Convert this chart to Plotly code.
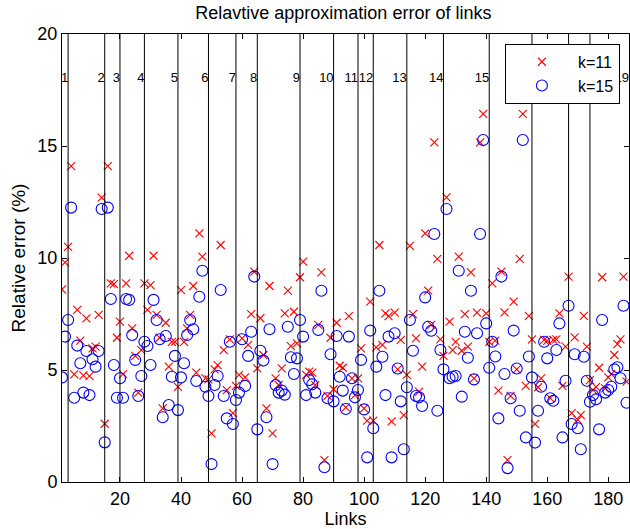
import plotly.graph_objects as go

links = list(range(1, 187))

k11 = [8.6, 9.8, 10.5, 14.1, 4.8, 7.68, 6.31, 4.76, 7.3, 4.73,
       5.97, 6.04, 7.46, 12.7, 2.6, 14.1, 8.87, 8.83, 6.44, 7.16,
       4.82, 8.87, 10.1, 6.86, 5.63, 3.99, 5.89, 8.87, 7.68, 8.79,
       10.1, 7.46, 6.44, 3.29, 7.11, 5.15, 6.26, 6.26, 4.25, 8.57,
       6.26, 6.86, 7.46, 8.75, 4.88, 11.1, 10.06, 4.63, 4.58, 2.17,
       5.03, 5.22, 10.58, 5.89, 4.1, 6.37, 3.07, 4.29, 4.78, 6.41,
       4.67, 6.12, 7.49, 9.39, 5.07, 7.31, 5.67, 3.29, 8.75, 2.17,
       4.63, 4.33, 5.07, 7.53, 8.54, 6.07, 7.6, 6.19, 9.14, 9.84,
       4.78, 4.93, 4.88, 4.32, 7.01, 9.36, 0.98, 3.84, 6.44, 4.14,
       7.11, 5.19, 5.1, 3.33, 7.41, 4.63, 3.88, 4.63, 5.97, 3.29,
       2.74, 8.05, 2.74, 6.01, 10.58, 6.12, 7.53, 7.41, 2.71, 7.56,
       5.03, 6.34, 2.99, 4.78, 10.54, 7.49, 6.41, 4.03, 5.15, 11.1,
       8.54, 7.01, 15.16, 9.96, 6.37, 5.63, 12.71, 7.16, 5.89, 6.26,
       10.06, 5.86, 7.49, 6.04, 9.36, 4.63, 7.56, 15.16, 16.43, 7.53,
       6.26, 8.87, 6.31, 4.08, 9.39, 7.57, 0.98, 3.84, 8.05, 5.03,
       9.96, 16.43, 4.29, 7.42, 6.37, 2.59, 4.23, 4.63, 6.34, 6.3,
       3.74, 6.34, 6.37, 7.53, 4.29, 6.04, 9.17, 3.07, 6.46, 2.77,
       2.99, 7.42, 6.04, 4.55, 4.1, 4.25, 5.1, 9.14, 4.18, 4.67,
       4.82, 5.67, 6.16, 6.37, 9.17, 4.48]

k15 = [4.67, 6.49, 7.23, 12.25, 3.76, 6.09, 5.3, 3.99, 5.85, 3.88,
       5.48, 5.15, 5.85, 12.19, 1.77, 12.25, 8.17, 5.22, 3.76, 4.63,
       3.76, 8.17, 8.13, 6.56, 5.45, 3.84, 4.73, 6.26, 6.07, 5.22,
       8.13, 7.23, 6.37, 2.89, 6.52, 3.44, 4.7, 5.63, 3.21, 4.67,
       5.3, 6.56, 7.23, 6.82, 4.51, 8.27, 9.43, 4.25, 3.84, 0.8,
       4.33, 4.73, 8.57, 3.84, 2.84, 6.26, 2.59, 3.66, 3.99, 6.37,
       4.29, 5.63, 6.71, 9.17, 2.35, 5.86, 5.42, 2.89, 6.82, 0.8,
       4.33, 3.99, 4.08, 3.9, 6.93, 5.57, 4.82, 5.52, 7.23, 6.49,
       3.88, 4.55, 4.36, 3.99, 6.79, 8.54, 0.66, 3.74, 5.7, 3.6,
       6.52, 4.7, 4.08, 3.26, 6.49, 4.63, 3.78, 4.11, 5.45, 3.24,
       1.1, 6.76, 2.4, 5.15, 8.54, 5.59, 3.88, 6.49, 1.1, 6.64,
       5.07, 3.6, 1.46, 4.23, 7.23, 5.86, 3.84, 3.78, 3.39, 8.24,
       6.93, 6.75, 11.07, 3.18, 5.89, 5.03, 12.19, 4.63, 4.7, 4.73,
       9.43, 3.81, 6.71, 5.55, 8.54, 4.58, 6.64, 11.07, 15.27, 7.08,
       5.1, 6.26, 5.6, 2.84, 9.17, 4.82, 0.62, 3.74, 6.76, 5.07,
       3.18, 15.27, 1.99, 5.6, 4.67, 1.76, 3.18, 4.25, 6.26, 5.52,
       3.74, 3.63, 5.89, 7.08, 1.99, 4.52, 7.87, 2.59, 5.7, 2.4,
       1.46, 5.59, 4.52, 3.58, 3.88, 3.69, 2.35, 7.23, 3.99, 4.11,
       4.25, 5.03, 5.12, 4.63, 7.87, 3.54]

boundaries = [3, 15, 20, 28, 39, 49, 58, 65, 79, 90, 98, 103, 114, 126,
              141, 155, 167, 174, 186.8]
group_labels = [str(i) for i in range(1, 20)]
label_y = 18

FONT = "Liberation Sans, Arial, Helvetica, sans-serif"

fig = go.Figure()
fig.add_trace(go.Scatter(
    x=links, y=k11, mode="markers", name="k=11",
    marker=dict(symbol="x-thin-open", size=8, color="red",
                line=dict(color="red", width=1.1)),
))
fig.add_trace(go.Scatter(
    x=links, y=k15, mode="markers", name="k=15",
    marker=dict(symbol="circle-open", size=11, color="blue",
                line=dict(color="blue", width=1.1)),
))
# group labels as a text trace so the legend box sits above them
fig.add_trace(go.Scatter(
    x=boundaries, y=[label_y] * len(boundaries), mode="text",
    text=group_labels, textposition="middle left",
    textfont=dict(size=13, color="black", family=FONT),
    showlegend=False, hoverinfo="skip", cliponaxis=False,
))

for b in boundaries[:-1]:
    fig.add_shape(type="line", x0=b, x1=b, xref="x", yref="paper",
                  y0=0, y1=1, line=dict(color="black", width=1))

fig.update_layout(
    width=630, height=529,
    margin=dict(l=62, r=1, t=34, b=47),
    paper_bgcolor="white", plot_bgcolor="white",
    font=dict(family=FONT, color="black", size=18),
    title=dict(text="Relavtive approximation error of links",
               x=0.545, xanchor="center", y=0.976, yanchor="middle",
               font=dict(size=18, family=FONT)),
    showlegend=True,
    legend=dict(x=0.984, xanchor="right", y=0.978, yanchor="top",
                bgcolor="white", bordercolor="black", borderwidth=1,
                font=dict(size=16, family=FONT), itemwidth=62,
                tracegroupgap=0),
    xaxis=dict(range=[1, 186.8], tickvals=[20, 40, 60, 80, 100, 120, 140, 160, 180],
               showgrid=False, zeroline=False, showline=True, mirror="allticks",
               linecolor="black", linewidth=1, ticks="inside", ticklen=5,
               tickcolor="black", tickfont=dict(size=18),
               title=dict(text="Links", font=dict(size=18), standoff=2)),
    yaxis=dict(range=[0, 20], tickvals=[0, 5, 10, 15, 20],
               showgrid=False, zeroline=False, showline=True, mirror="allticks",
               linecolor="black", linewidth=1, ticks="inside", ticklen=5,
               tickcolor="black", tickfont=dict(size=18),
               title=dict(text="Relative error (%)", font=dict(size=19), standoff=6)),
)

fig.write_html(
    "out.html",
    config={"displayModeBar": False},
    post_script="document.body.style.margin='0';document.body.style.overflow='hidden';",
)
